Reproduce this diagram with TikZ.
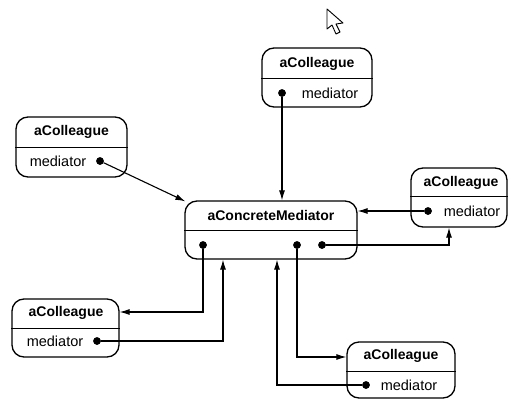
\documentclass[tikz,border=0pt]{standalone}
\usepackage{fontspec}
\setmainfont{Liberation Sans}
\usetikzlibrary{arrows.meta,calc}
\begin{document}
\begin{tikzpicture}[x=1pt,y=-1pt,
  objbox/.style={draw, line width=1.3pt, rounded corners=12pt, inner sep=0pt},
  divider/.style={line width=1.0pt},
  title/.style={font=\bfseries\fontsize{14}{16}\selectfont, inner sep=0pt},
  field/.style={font=\fontsize{14.5}{16}\selectfont, inner sep=0pt},
  ref/.style={circle, fill, inner sep=0pt, minimum size=7.5pt},
  link/.style={line width=1.1pt, -{Latex[length=10pt,width=6pt]}},
]
\useasboundingbox (0,0) rectangle (509,399);

% mouse pointer
\draw[line width=0.9pt, fill=white, line join=round]
  (327,9) -- (327,29) -- (332,25) -- (336,34) -- (340,32) -- (336,24) -- (343,23) -- cycle;

% ---- object boxes ----
% top colleague
\node[objbox, minimum width=110pt, minimum height=59pt] (T) at (317,77.5) {};
\draw[divider] (T.west |- 0,78) -- (T.east |- 0,78);
\node[title] (Tt) at (317,64) {aColleague};
\node[field] (Tf) at (330,93) {mediator};
\node[ref] (Td) at (282,93) {};

% left colleague
\node[objbox, minimum width=111pt, minimum height=60pt] (L) at (71.5,147) {};
\draw[divider] (L.west |- 0,147) -- (L.east |- 0,147);
\node[title] (Lt) at (71.5,132) {aColleague};
\node[field] (Lf) at (58,161) {mediator};
\node[ref] (Ld) at (100,161) {};

% right colleague
\node[objbox, minimum width=96pt, minimum height=59pt] (R) at (459,197.5) {};
\draw[divider] (R.west |- 0,196) -- (R.east |- 0,196);
\node[title] (Rt) at (461,183) {aColleague};
\node[field] (Rf) at (472,211) {mediator};
\node[ref] (Rd) at (428,211) {};

% mediator
\node[objbox, minimum width=172pt, minimum height=58pt] (M) at (271,230) {};
\draw[divider] (M.west |- 0,230) -- (M.east |- 0,230);
\node[title] (Mt) at (271,215) {aConcreteMediator};
\node[ref] (Ma) at (203,245) {};
\node[ref] (Mb) at (297,245) {};
\node[ref] (Mc) at (322,245) {};

% bottom-left colleague
\node[objbox, minimum width=107pt, minimum height=58pt] (BL) at (65.5,328) {};
\draw[divider] (BL.west |- 0,328) -- (BL.east |- 0,328);
\node[title] (BLt) at (66,313) {aColleague};
\node[field] (BLf) at (55,341) {mediator};
\node[ref] (BLd) at (97,341) {};

% bottom-right colleague
\node[objbox, minimum width=108pt, minimum height=56pt] (BR) at (401,370) {};
\draw[divider] (BR.west |- 0,371) -- (BR.east |- 0,371);
\node[title] (BRt) at (401,356) {aColleague};
\node[field] (BRf) at (409,385) {mediator};
\node[ref] (BRd) at (366,385) {};

% ---- arrival points ----
\coordinate (Rin) at (449,0);
\coordinate (BLin) at (0,312);
\coordinate (BRin) at (0,357);
\coordinate (Min1) at (223,0);
\coordinate (Min2) at (277,0);

% ---- connectors ----
\draw[link] (Td) -- (Td |- M.north);
\draw[link] (Ld) -- ($(M.north west)+(1,1)$);
\draw[link] (Rd) -- (M.east |- Rd);
\draw[link] (Mc) -| (Rin |- R.south);
\draw[link] (Ma) |- (BL.east |- BLin);
\draw[link] (BLd) -| (Min1 |- M.south);
\draw[link] (Mb) |- (BR.west |- BRin);
\draw[link] (BRd) -| (Min2 |- M.south);

% dots drawn again on top of the line ends
\foreach \d in {Td,Ld,Rd,Ma,Mb,Mc,BLd,BRd}
  \fill (\d) circle (3.75pt);
\end{tikzpicture}
\end{document}
